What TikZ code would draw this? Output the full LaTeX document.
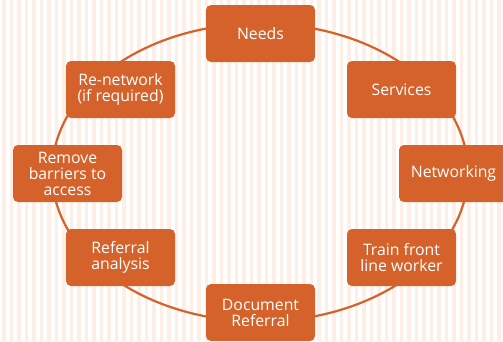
\documentclass[tikz,border=0pt]{standalone}
\usepackage{fontspec}
\setmainfont{Open Sans}
\definecolor{boxorange}{RGB}{212,98,42}
\definecolor{stripe}{RGB}{253,239,230}
\begin{document}
\begin{tikzpicture}[x=1pt,y=-1pt,
  stepbox/.style={fill=boxorange, draw=none, rounded corners=5pt,
    minimum width=109pt, minimum height=57pt, inner sep=0pt,
    text=white, align=center,
    font=\fontsize{15.8}{16}\selectfont},
  ring/.style={draw=boxorange, line width=2.2pt}]
\useasboundingbox (0,0) rectangle (503,341);
\clip (0,0) rectangle (503,341);
\fill[white] (0,0) rectangle (503,341);
\foreach \i in {0,...,67} {
  \fill[stripe] ({2+7.5*\i},0) rectangle ({5.5+7.5*\i},341);
}
\draw[ring] (260,172.5) ellipse [x radius=208, y radius=149];
\node[stepbox] (needs) at (260.5,33.5) {Needs};
\node[stepbox] (services) at (401.5,89.5) {Services};
\node[stepbox] (networking) at (453.5,173.5) {Networking};
\node[stepbox] (train) at (401.5,257.5) {Train front\\line worker};
\node[stepbox] (document) at (260.5,312.5) {Document\\Referral};
\node[stepbox] (analysis) at (120.5,257.5) {Referral\\analysis};
\node[stepbox] (remove) at (67.5,173.5) {Remove\\barriers to\\access};
\node[stepbox] (renetwork) at (120.5,89.5) {Re-network\\(if required)};
\end{tikzpicture}
\end{document}
